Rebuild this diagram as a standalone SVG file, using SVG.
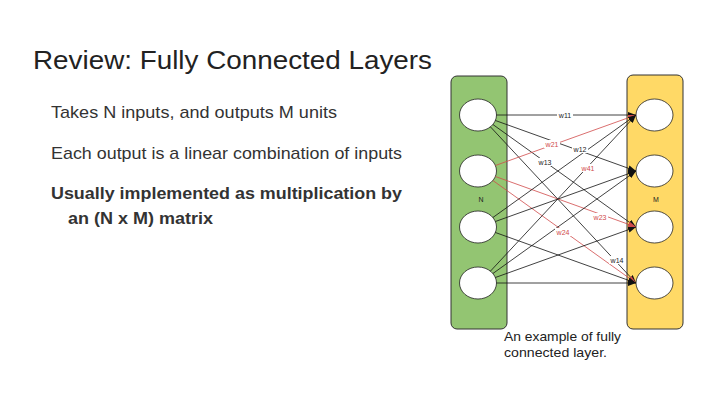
<svg xmlns="http://www.w3.org/2000/svg" width="720" height="405" viewBox="0 0 720 405">
<style>
.t{font-family:"Liberation Sans",Arial,sans-serif;fill:#333}
.title{font-size:25px;fill:#222}
.b{font-size:17px}
.bb{font-size:17px;font-weight:bold}
.cap{font-size:13.5px;fill:#222}
.lbl{font-family:"Liberation Sans",Arial,sans-serif;font-size:7px;fill:#222;text-anchor:middle}
.rl{fill:#d04a4a}
.ln{stroke:#111;stroke-width:0.8;fill:none}
.lr{stroke:#d04a4a;stroke-width:0.8;fill:none}
.node{fill:#fff;stroke:#222;stroke-width:0.8}
.lb{fill:#fff}
</style>
<defs>
<marker id="ab" markerWidth="8" markerHeight="6" refX="8" refY="3" orient="auto" markerUnits="userSpaceOnUse"><path d="M0,0 L8,3 L0,6 z" fill="#111"/></marker>
<marker id="ar" markerWidth="8" markerHeight="6" refX="8" refY="3" orient="auto" markerUnits="userSpaceOnUse"><path d="M0,0 L8,3 L0,6 z" fill="#d04a4a"/></marker>
</defs>
<rect width="720" height="405" fill="#fff"/>
<g id="title"><text class="t title" x="33" y="69" textLength="399" lengthAdjust="spacingAndGlyphs">Review: Fully Connected Layers</text></g>
<g id="bullets">
<text class="t b" x="51" y="118" textLength="286" lengthAdjust="spacingAndGlyphs">Takes N inputs, and outputs M units</text>
<text class="t b" x="51" y="159" textLength="351" lengthAdjust="spacingAndGlyphs">Each output is a linear combination of inputs</text>
<text class="t bb" x="51" y="199" textLength="351" lengthAdjust="spacingAndGlyphs">Usually implemented as multiplication by</text>
<text class="t bb" x="68" y="224" textLength="145" lengthAdjust="spacingAndGlyphs">an (N x M) matrix</text>
</g>
<g id="layerN">
<rect x="451" y="76" width="56" height="253" rx="6" fill="#93c572" stroke="#333" stroke-width="1"/>
<text class="lbl" x="481" y="202">N</text>
</g>
<g id="layerM">
<rect x="627" y="75" width="56" height="254" rx="6" fill="#ffd966" stroke="#333" stroke-width="1"/>
<text class="lbl" x="656" y="202">M</text>
</g>
<g id="n1"><ellipse class="node" cx="478" cy="115" rx="18.5" ry="16"/></g>
<g id="n2"><ellipse class="node" cx="478" cy="171" rx="18.5" ry="16"/></g>
<g id="n3"><ellipse class="node" cx="478" cy="227" rx="18.5" ry="16"/></g>
<g id="n4"><ellipse class="node" cx="478" cy="283" rx="18.5" ry="16"/></g>
<g id="m1"><ellipse class="node" cx="654.5" cy="115" rx="18.5" ry="16"/></g>
<g id="m2"><ellipse class="node" cx="654.5" cy="171" rx="18.5" ry="16"/></g>
<g id="m3"><ellipse class="node" cx="654.5" cy="227" rx="18.5" ry="16"/></g>
<g id="m4"><ellipse class="node" cx="654.5" cy="283" rx="18.5" ry="16"/></g>
<g id="connectors">
<line class="ln" x1="496.5" y1="115" x2="636" y2="115" stroke-width="1.2" marker-end="url(#ab)"/>
<line class="ln" x1="495.4" y1="120.5" x2="636" y2="171" marker-end="url(#ab)"/>
<line class="ln" x1="492.9" y1="124.5" x2="636" y2="227" marker-end="url(#ab)"/>
<line class="ln" x1="490.4" y1="126.8" x2="636" y2="283" marker-end="url(#ab)"/>
<line class="lr" x1="495.4" y1="165.5" x2="636" y2="115" marker-end="url(#ar)"/>
<line class="lr" x1="495.4" y1="176.5" x2="636" y2="227" marker-end="url(#ar)"/>
<line class="lr" x1="492.9" y1="180.5" x2="636" y2="283" marker-end="url(#ar)"/>
<line class="ln" x1="492.9" y1="217.5" x2="636" y2="115" marker-end="url(#ab)"/>
<line class="ln" x1="495.4" y1="221.5" x2="636" y2="171" marker-end="url(#ab)"/>
<line class="ln" x1="495.4" y1="232.5" x2="636" y2="283" marker-end="url(#ab)"/>
<line class="ln" x1="490.4" y1="271.2" x2="636" y2="115" marker-end="url(#ab)"/>
<line class="ln" x1="492.9" y1="273.5" x2="636" y2="171" marker-end="url(#ab)"/>
<line class="ln" x1="495.4" y1="277.5" x2="636" y2="227" marker-end="url(#ab)"/>
<line class="ln" x1="496.5" y1="283" x2="636" y2="283" stroke-width="1.2" marker-end="url(#ab)"/>
</g>
<g id="labels">
<rect class="lb" x="557" y="111" width="16" height="8"/><text class="lbl" x="565" y="117.5">w11</text>
<rect class="lb" x="544" y="140" width="16" height="8"/><text class="lbl rl" x="552" y="146.5">w21</text>
<rect class="lb" x="572" y="145" width="16" height="8"/><text class="lbl" x="580" y="151.5">w12</text>
<rect class="lb" x="537" y="158" width="16" height="8"/><text class="lbl" x="545" y="164.5">w13</text>
<rect class="lb" x="580" y="164" width="16" height="8"/><text class="lbl rl" x="588" y="170.5">w41</text>
<rect class="lb" x="592" y="213" width="16" height="8"/><text class="lbl rl" x="600" y="219.5">w23</text>
<rect class="lb" x="555" y="228" width="16" height="8"/><text class="lbl rl" x="563" y="234.5">w24</text>
<rect class="lb" x="609" y="256" width="16" height="8"/><text class="lbl" x="617" y="262.5">w14</text>
</g>
<g id="caption">
<text class="t cap" x="504" y="341" textLength="117" lengthAdjust="spacingAndGlyphs">An example of fully</text>
<text class="t cap" x="504" y="357" textLength="103" lengthAdjust="spacingAndGlyphs">connected layer.</text>
</g>
</svg>
